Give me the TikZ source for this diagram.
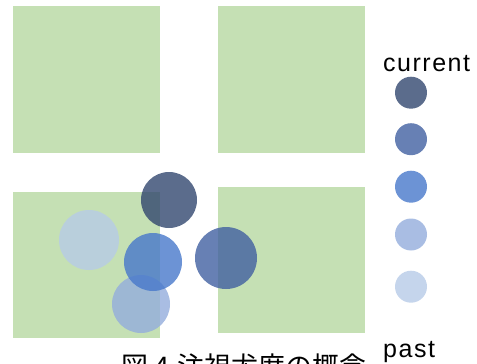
\documentclass[tikz,border=0pt]{standalone}
\usepackage{fontspec}
\setmainfont{Liberation Sans}
\newfontfamily\cjkfont{Noto Sans CJK JP}
\definecolor{sqgreen}{RGB}{197,224,180}
\definecolor{cA}{RGB}{50,71,111}
\definecolor{cB}{RGB}{65,96,161}
\definecolor{cC}{RGB}{71,120,203}
\definecolor{cD}{RGB}{148,173,220}
\definecolor{cE}{RGB}{183,203,231}
\begin{document}
\begin{tikzpicture}[x=1pt,y=-1pt,
  sq/.style={fill=sqgreen,inner sep=0pt,minimum width=147pt,minimum height=147pt},
  dot/.style={circle,fill=#1,fill opacity=0.8,inner sep=0pt},
  lbl/.style={font=\fontsize{25}{25}\selectfont\addfontfeature{LetterSpace=6},inner sep=0pt}]
\useasboundingbox (0,0) rectangle (477,364);
% squares
\node[sq] (s1) at (86.5,79.5) {};
\node[sq] (s2) at (291.5,79) {};
\node[sq,minimum height=146pt] (s3) at (86.5,265) {};
\node[sq,minimum height=146pt] (s4) at (291.5,260) {};
% gaze circles
\node[dot=cE,minimum size=60pt] (g5) at (89,240) {};
\node[dot=cD,minimum size=58pt] (g4) at (141,304) {};
\node[dot=cC,minimum size=58pt] (g3) at (153,262) {};
\node[dot=cB,minimum size=62pt] (g2) at (226,258) {};
\node[dot=cA,minimum size=56pt] (g1) at (169,200) {};
% legend
\node[lbl,anchor=base west] (cur) at (383,71) {current};
\node[dot=cA,minimum size=32pt] (l1) at (411,92.7) {};
\node[dot=cB,minimum size=32pt] (l2) at (411,139.2) {};
\node[dot=cC,minimum size=32pt] (l3) at (411,186.7) {};
\node[dot=cD,minimum size=32pt] (l4) at (411,234.5) {};
\node[dot=cE,minimum size=32pt] (l5) at (411,286.7) {};
\node[lbl,anchor=base west] (past) at (383,357) {past};
% caption
\node[font=\cjkfont\fontsize{27}{27}\selectfont,inner sep=0pt,anchor=base west] (cap) at (121,376) {図\hspace{6pt}4\hspace{8pt}注視尤度の概念};
\end{tikzpicture}
\end{document}
